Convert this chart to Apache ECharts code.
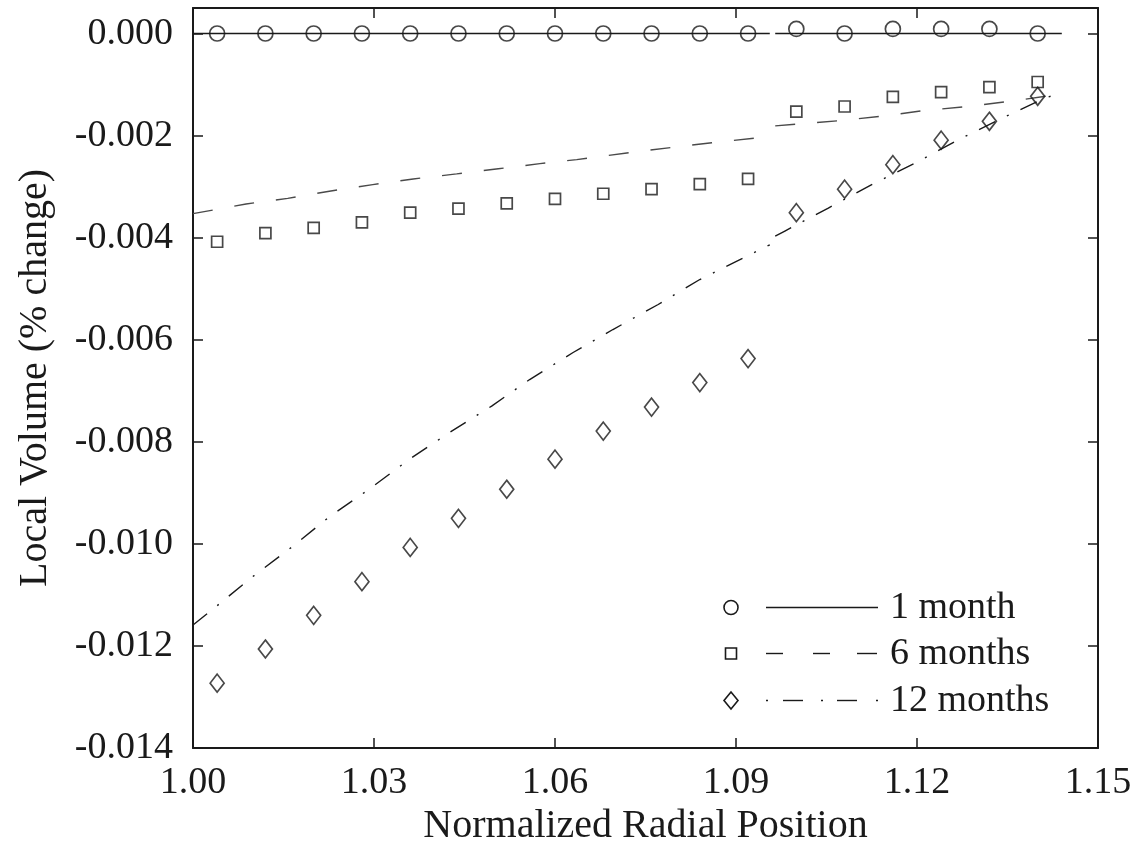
<!DOCTYPE html>
<html>
<head>
<meta charset="utf-8">
<script src="https://cdn.jsdelivr.net/npm/echarts@6/dist/echarts.min.js"></script>
<style>
  html, body { margin: 0; padding: 0; background: #ffffff; }
  #chart { width: 1144px; height: 846px; }
</style>
</head>
<body>
<div id="chart"></div>
<script>
// ---- Axis tick labels ----
const xTickLabels = ['1.00', '1.03', '1.06', '1.09', '1.12', '1.15'];
const yTickLabels = ['-0.014', '-0.012', '-0.010', '-0.008', '-0.006', '-0.004', '-0.002', '0.000'];

// ---- Sampled radial positions (symbols) ----
const markerR = [1.004, 1.012, 1.020, 1.028, 1.036, 1.044, 1.052, 1.060, 1.068, 1.076, 1.084, 1.092,
                 1.100, 1.108, 1.116, 1.124, 1.132, 1.140];
const month1Markers = [0, 0, 0, 0, 0, 0, 0, 0, 0, 0, 0, 0,
                       0.00009, 0, 0.00009, 0.00009, 0.00009, 0];
const month6Markers = [-0.00408, -0.00391, -0.00381, -0.00370, -0.00351, -0.00343, -0.00333, -0.00324,
                       -0.00314, -0.00305, -0.00295, -0.00285,
                       -0.00153, -0.00143, -0.00124, -0.00115, -0.00105, -0.00095];
const month12Markers = [-0.01273, -0.01206, -0.01140, -0.01074, -0.01007, -0.00950, -0.00893, -0.00834,
                        -0.00779, -0.00732, -0.00684, -0.00637,
                        -0.00351, -0.00305, -0.00257, -0.00209, -0.00172, -0.00123];

// ---- Model curves, inner layer ----
const month1InnerR = [1.000, 1.0956];
const month1Inner  = [0, 0];
const month6InnerR = [1.000, 1.0088, 1.0157, 1.0226, 1.0298, 1.0365, 1.0437, 1.0506, 1.0575, 1.0636,
                      1.0719, 1.0788, 1.0860, 1.0931, 1.0956];
const month6Inner  = [-0.00353, -0.00334, -0.00323, -0.00309, -0.00296, -0.00285, -0.00275, -0.00265,
                      -0.00255, -0.00247, -0.00234, -0.00224, -0.00214, -0.00205, -0.00201];
const month12InnerR = [1.000, 1.0033, 1.0097, 1.0163, 1.0226, 1.0293, 1.0359, 1.0425, 1.0495, 1.0558,
                       1.0630, 1.0696, 1.0771, 1.0840, 1.0912, 1.0956];
const month12Inner  = [-0.01159, -0.01128, -0.01066, -0.01007, -0.00947, -0.00892, -0.00834, -0.00782,
                       -0.00730, -0.00678, -0.00625, -0.00580, -0.00531, -0.00482, -0.00440, -0.00414];

// ---- Model curves, outer layer ----
const month1OuterR = [1.0965, 1.144];
const month1Outer  = [0, 0];
const month6OuterR = [1.0965, 1.1069, 1.1142, 1.1211, 1.1283, 1.1353, 1.1431, 1.144];
const month6Outer  = [-0.00181, -0.00171, -0.00162, -0.00151, -0.00143, -0.00133, -0.00120, -0.00118];
const month12OuterR = [1.0965, 1.0981, 1.1053, 1.1125, 1.1197, 1.1269, 1.1341, 1.1413, 1.144];
const month12Outer  = [-0.00397, -0.00387, -0.00342, -0.00296, -0.00254, -0.00208, -0.00166, -0.00126, -0.00116];

const seriesNames = ['1 month', '6 months', '12 months'];

// ---- Styling ----
const FONT = '"Liberation Serif", "DejaVu Serif", serif';
const INK = '#1a1a1a';
const FS = 38;      // tick labels and legend
const FS_NAME = 40; // axis titles

const xMin = 1.00, xMax = 1.15, xStep = 0.03;
const yMin = -0.014, yMax = 0.0005, yStep = 0.002;

function zip(xs, ys) { return xs.map((x, i) => [x, ys[i]]); }
// inner and outer layers drawn as one polyline with a break between them
function layered(ri, vi, ro, vo) { return zip(ri, vi).concat([['-', '-']], zip(ro, vo)); }

function xLabel(v) {
  const k = Math.round((v - xMin) / xStep);
  return Math.abs(xMin + k * xStep - v) < 1e-9 && xTickLabels[k] !== undefined ? xTickLabels[k] : '';
}
function yLabel(v) {
  const k = Math.round((v - yMin) / yStep);
  return Math.abs(yMin + k * yStep - v) < 1e-9 && yTickLabels[k] !== undefined ? yTickLabels[k] : '';
}

const axisLine = { show: true, onZero: false, lineStyle: { color: INK, width: 2 } };
const axisTick = { show: true, inside: true, length: 10, lineStyle: { color: INK, width: 1.5 } };

function xAxisCfg(pos, withLabels) {
  return {
    type: 'value', position: pos, min: xMin, max: xMax, interval: xStep,
    axisLine, axisTick, splitLine: { show: false },
    axisLabel: withLabels ? { show: true, margin: 16, fontSize: FS, fontFamily: FONT, color: INK,
                              formatter: xLabel, showMaxLabel: true, showMinLabel: true }
                          : { show: false },
    name: withLabels ? 'Normalized Radial Position' : '',
    nameLocation: 'middle', nameGap: 52,
    nameTextStyle: { fontSize: FS_NAME, fontFamily: FONT, color: INK }
  };
}
function yAxisCfg(pos, withLabels) {
  return {
    type: 'value', position: pos, min: yMin, max: yMax, interval: yStep,
    axisLine, axisTick, splitLine: { show: false },
    axisLabel: withLabels ? { show: true, margin: 20, fontSize: FS, fontFamily: FONT, color: INK,
                              formatter: yLabel, showMaxLabel: false }
                          : { show: false },
    name: withLabels ? 'Local Volume (% change)' : '',
    nameLocation: 'middle', nameGap: 138,
    nameTextStyle: { fontSize: FS_NAME, fontFamily: FONT, color: INK }
  };
}

function curve(name, data, dash, color) {
  return {
    name, type: 'line', data, showSymbol: false, symbol: 'none', connectNulls: false,
    lineStyle: { color, width: 1.4, type: dash }, silent: true, z: 2
  };
}
function markers(name, values, symbol, size) {
  return {
    name, type: 'scatter', data: zip(markerR, values), symbol, symbolSize: size,
    itemStyle: { color: 'rgba(0,0,0,0)', borderColor: INK, borderWidth: 1.7 }, silent: true, z: 3
  };
}

// ---- Legend (drawn as graphics: symbol, line sample, label) ----
const LX = 731, LLine0 = 766, LText = 890;
const rows = [607.5, 653.5, 700.5];
const legendGraphics = [];
const stroke = { stroke: INK, lineWidth: 1.4 };
// row 1
legendGraphics.push({ type: 'circle', shape: { cx: LX, cy: rows[0], r: 7 },
  style: { fill: 'none', stroke: INK, lineWidth: 1.6 } });
legendGraphics.push({ type: 'line', shape: { x1: LLine0, y1: rows[0], x2: 878, y2: rows[0] }, style: stroke });
// row 2
legendGraphics.push({ type: 'rect', shape: { x: LX - 5.5, y: rows[1] - 5.5, width: 11, height: 11 },
  style: { fill: 'none', stroke: INK, lineWidth: 1.6 } });
[[766, 783], [813, 830], [857, 877]].forEach(([a, b]) =>
  legendGraphics.push({ type: 'line', shape: { x1: a, y1: rows[1], x2: b, y2: rows[1] }, style: stroke }));
// row 3
legendGraphics.push({ type: 'polygon',
  shape: { points: [[LX, rows[2] - 8.5], [LX + 7, rows[2]], [LX, rows[2] + 8.5], [LX - 7, rows[2]]] },
  style: { fill: 'none', stroke: INK, lineWidth: 1.6 } });
[[766, 768], [783, 803], [821, 823], [837, 857], [876, 878]].forEach(([a, b]) =>
  legendGraphics.push({ type: 'line', shape: { x1: a, y1: rows[2], x2: b, y2: rows[2] }, style: stroke }));
seriesNames.forEach((n, i) =>
  legendGraphics.push({ type: 'text', x: LText, y: rows[i] + 1,
    style: { text: n, font: FS + 'px ' + FONT, fill: INK, verticalAlign: 'middle', align: 'left' } }));

const chart = echarts.init(document.getElementById('chart'), null, { renderer: 'canvas' });
chart.setOption({
  backgroundColor: '#ffffff',
  animation: false,
  grid: { left: 193, right: 46, top: 8, bottom: 98, containLabel: false, outerBoundsMode: 'none' },
  xAxis: [xAxisCfg('bottom', true), xAxisCfg('top', false)],
  yAxis: [yAxisCfg('left', true), yAxisCfg('right', false)],
  series: [
    curve(seriesNames[0], layered(month1InnerR, month1Inner, month1OuterR, month1Outer), 'solid', INK),
    curve(seriesNames[1], layered(month6InnerR, month6Inner, month6OuterR, month6Outer), [20, 22], '#4a4a4a'),
    curve(seriesNames[2], layered(month12InnerR, month12Inner, month12OuterR, month12Outer), [18, 13, 2, 13], INK),
    markers(seriesNames[0], month1Markers, 'circle', 15),
    markers(seriesNames[1], month6Markers, 'rect', 11),
    markers(seriesNames[2], month12Markers, 'diamond', [14, 18])
  ],
  graphic: legendGraphics
});
</script>
</body>
</html>
